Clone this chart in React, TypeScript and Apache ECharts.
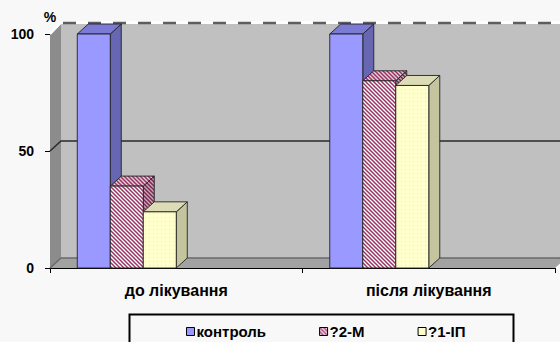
import React, { useEffect, useRef } from "react";
import * as echarts from "echarts";

// ---- data ----
const categories = ["до лікування", "після лікування"];
const seriesNames = ["контроль", "?2-М", "?1-ІП"];
const controlValues = [100, 100];
const m2Values = [35, 80];
const ip1Values = [24, 78];
const yTickValues = [0, 50, 100];

// ---- style constants ----
const FONT = "'Liberation Sans', Arial, sans-serif";
const DX = 11;
const DY = 10;
const BAR_W = 0.1307;
const GROUP_OFF = -0.392;

const svgTile = (inner: string, size: number) =>
  "data:image/svg+xml;charset=utf-8," +
  encodeURIComponent(
    `<svg xmlns="http://www.w3.org/2000/svg" width="${size}" height="${size}">${inner}</svg>`
  );

const hatch = (bg: string, fg: string) => ({
  image: svgTile(
    `<rect width="4" height="4" fill="${bg}"/><path d="M-1,-1 L5,5 M-1,3 L1,5 M3,-1 L5,1" stroke="${fg}" stroke-width="1.5"/>`,
    4
  ),
  repeat: "repeat",
  imageWidth: 4,
  imageHeight: 4,
});

const dots = (bg: string, fg: string) => ({
  image: svgTile(
    `<rect width="4" height="4" fill="${bg}"/><rect x="1" y="1" width="1" height="1" fill="${fg}"/>`,
    4
  ),
  repeat: "repeat",
  imageWidth: 4,
  imageHeight: 4,
});

const faces = [
  { front: "#9999ff", top: "#7b7bd6", side: "#6666b3", legend: "#9999ff" },
  {
    front: hatch("#ffffff", "#993366"),
    top: hatch("#e8cfdc", "#993366"),
    side: hatch("#c9a9b9", "#7a2850"),
    legend: hatch("#ffffff", "#993366"),
  },
  { front: dots("#ffffcc", "#ecebbf"), top: "#dcdcb6", side: "#c4c49e", legend: "#ffffcc" },
];

const seriesValues = [controlValues, m2Values, ip1Values];

function barRenderer(k: number) {
  const f = faces[k];
  return (params: any, api: any) => {
    const cat = api.value(0);
    const val = api.value(1);
    const p = api.coord([cat, val]);
    const b = api.coord([cat, 0]);
    const band = api.size([1, 0])[0];
    const w = band * BAR_W;
    const x0 = p[0] + band * (GROUP_OFF + k * BAR_W);
    const x1 = x0 + w;
    const yt = p[1];
    const yb = b[1];
    const st = { stroke: "#222", lineWidth: 0.9 };
    return {
      type: "group",
      children: [
        {
          type: "polygon",
          shape: { points: [[x1, yt], [x1 + DX, yt - DY], [x1 + DX, yb - DY], [x1, yb]] },
          style: { fill: f.side, ...st },
        },
        {
          type: "polygon",
          shape: { points: [[x0, yt], [x0 + DX, yt - DY], [x1 + DX, yt - DY], [x1, yt]] },
          style: { fill: f.top, ...st },
        },
        {
          type: "rect",
          shape: { x: x0, y: yt, width: w, height: yb - yt },
          style: { fill: f.front, ...st },
        },
      ],
    };
  };
}

function wallRenderer(params: any, api: any) {
  const cs = params.coordSys;
  const L = cs.x;
  const R = cs.x + cs.width;
  const T = cs.y;
  const B = cs.y + cs.height;
  const children: any[] = [
    {
      type: "rect",
      shape: { x: L + DX, y: T - DY, width: R - L, height: B - T },
      style: { fill: "#c0c0c0" },
    },
    {
      type: "polygon",
      shape: { points: [[L, T], [L + DX, T - DY], [L + DX, B - DY], [L, B]] },
      style: { fill: "#8c8c8c" },
    },
    {
      type: "polygon",
      shape: { points: [[L, B], [L + DX, B - DY], [R + DX, B - DY], [R, B]] },
      style: { fill: "#a2a2a2" },
    },
    {
      type: "polyline",
      shape: { points: [[L, B], [L + DX, B - DY], [R + DX, B - DY]] },
      style: { stroke: "#6a6a6a", lineWidth: 1.5, fill: null },
    },
  ];
  yTickValues
    .filter((v) => v > yTickValues[0] && v < yTickValues[yTickValues.length - 1])
    .forEach((v) => {
      const y = api.coord([0, v])[1];
      children.push({
        type: "polyline",
        shape: { points: [[L, y], [L + DX, y - DY], [R + DX, y - DY]] },
        style: { stroke: "#2a2a2a", lineWidth: 1.5, fill: null },
      });
    });
  const yTop = api.coord([0, yTickValues[yTickValues.length - 1]])[1];
  children.push(
    {
      type: "polyline",
      shape: { points: [[L, yTop], [L + DX, yTop - DY - 1.5], [R + DX, yTop - DY - 1.5]] },
      style: { stroke: "#ffffff", lineWidth: 2.5, fill: null },
    },
    {
      type: "line",
      shape: { x1: L + DX + 2, y1: yTop - DY - 1, x2: R + DX, y2: yTop - DY - 1 },
      style: { stroke: "#5e5e5e", lineWidth: 2.5, lineDash: [13, 12] },
    }
  );
  return { type: "group", children };
}

export default function App() {
  const ref = useRef<HTMLDivElement>(null);
  useEffect(() => {
    if (!ref.current) return;
    const chart = echarts.init(ref.current, undefined, { renderer: "svg" });
    const option: any = {
      animation: false,
      backgroundColor: "#f8f8f8",
      textStyle: { fontFamily: FONT },
      grid: { left: 50, right: 5, top: 34, bottom: 74 },
      xAxis: {
        type: "category",
        data: categories,
        boundaryGap: true,
        axisLine: { show: true, lineStyle: { color: "#000", width: 1.2 } },
        axisTick: { show: true, length: 5, lineStyle: { color: "#000" } },
        axisLabel: {
          margin: 14,
          color: "#000",
          fontSize: 16,
          fontWeight: "bold",
          fontFamily: FONT,
        },
        splitLine: { show: false },
      },
      yAxis: {
        type: "value",
        min: 0,
        max: 100,
        interval: 50,
        name: "%",
        nameLocation: "end",
        nameGap: 10,
        nameTextStyle: { color: "#000", fontSize: 14, fontWeight: "bold", fontFamily: FONT },
        axisLine: { show: false },
        axisTick: { show: true, length: 5, lineStyle: { color: "#000" } },
        axisLabel: {
          margin: 16,
          color: "#000",
          fontSize: 14,
          fontWeight: "bold",
          fontFamily: FONT,
        },
        splitLine: { show: false },
      },
      legend: {
        left: 181,
        top: 319,
        itemWidth: 8,
        itemHeight: 8,
        itemGap: 53,
        icon: "rect",
        textStyle: {
          color: "#000",
          fontSize: 15,
          fontWeight: "bold",
          fontFamily: FONT,
          padding: [0, 0, 0, -3],
        },
        data: seriesNames.map((n, i) => ({
          name: n,
          itemStyle: { color: faces[i].legend, borderColor: "#000", borderWidth: 1 },
        })),
      },
      graphic: [
        {
          type: "rect",
          left: 127,
          top: 312,
          shape: { width: 384, height: 40 },
          style: { fill: "none", stroke: "#000", lineWidth: 2 },
          silent: true,
        },
      ],
      series: [
        {
          type: "custom",
          name: "walls",
          silent: true,
          clip: false,
          renderItem: wallRenderer,
          data: [[0, 0]],
          z: 1,
        },
        ...seriesNames.map((n, k) => ({
          type: "custom",
          name: n,
          clip: false,
          renderItem: barRenderer(k),
          itemStyle: { color: faces[k].legend, borderColor: "#000", borderWidth: 1 },
          data: seriesValues[k].map((v, i) => [i, v]),
          z: 2,
        })),
      ],
    };
    chart.setOption(option);
    return () => chart.dispose();
  }, []);
  return (
    <div
      ref={ref}
      style={{ position: "absolute", left: 0, top: 0, width: 560, height: 342 }}
    />
  );
}
